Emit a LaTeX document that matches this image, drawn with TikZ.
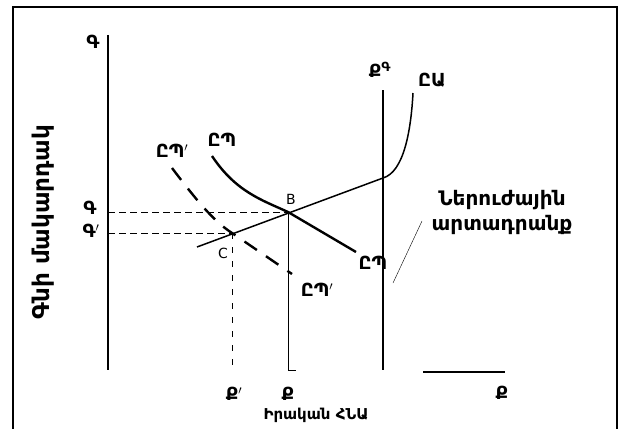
\documentclass[tikz,border=0pt]{standalone}
\usepackage{fontspec}
\setmainfont{DejaVu Sans}
\usetikzlibrary{positioning}

\begin{document}
\begin{tikzpicture}[
    x=1pt, y=-1pt,
    lbl/.style={font=\fontsize{18}{23}\selectfont\bfseries, inner sep=1pt},
    small/.style={font=\fontsize{14}{17}\selectfont, inner sep=1pt},
    axis/.style={line width=1.4pt},
    demand/.style={line width=2.4pt},
    shifted/.style={line width=2.4pt, dash pattern=on 15pt off 11pt},
    supply/.style={line width=1.5pt},
    guide/.style={thin, dash pattern=on 7pt off 4pt},
    drop/.style={thin, dash pattern=on 6pt off 8pt}
]
\useasboundingbox (0,0) rectangle (620,428);
\draw[line width=1.6pt] (13,440) -- (13,7) -- (617,7) -- (617,440);

% axes
\coordinate (ytop) at (108,35);
\coordinate (orig) at (108,370);
\draw[axis] (ytop) -- (orig);
\coordinate (xa) at (423,372);
\coordinate (xb) at (505,372);
\draw[axis] (xa) -- (xb);

% points
\coordinate (B) at (288,212);
\coordinate (C) at (232,233);
\coordinate (pB) at (108,212);
\coordinate (pC) at (108,233);
\coordinate (qB) at (288,370);
\coordinate (qC) at (232,370);

\draw[guide] (pB) -- (B);
\draw[guide] (pC) -- (C);
\draw[drop] (C) -- (qC);
\draw[thin] (B) -- (qB) -- +(8,0);

% potential output
\coordinate (qf) at (383,90);
\coordinate (qf0) at (383,370);
\draw[supply] (qf) -- (qf0);

% aggregate supply
\coordinate (as0) at (197,247);
\coordinate (kink) at (383,178);
\coordinate (as1) at (413,93);
\draw[supply] (as0) -- (kink) .. controls (404,172) and (411,130) .. (as1);

% aggregate demand
\coordinate (ad0) at (212,156);
\coordinate (ad1) at (356,252);
\draw[demand] (ad0) .. controls (236,192) and (262,200) .. (B) -- (ad1);
\coordinate (adp0) at (172,168);
\coordinate (adp1) at (292,274);
\draw[shifted] (adp0) .. controls (200,205) and (215,222) .. (C) -- (adp1);

% labels
\node[lbl] (lq) at (93,42) {Գ};
\node[lbl] (lqB) at (90,208) {Գ};
\node[lbl] (lqC) at (91,231) {Գ$'$};
\node[lbl] (lxC) at (234,394) {Ք$'$};
\node[lbl] (lxB) at (288,394) {Ք};
\node[lbl] (lx) at (502,393) {Ք};
\node[lbl] (lqf) at (380,70) {Ք\textsuperscript{Գ}};
\node[small] (lB) at (291,199) {B};
\node[small] (lC) at (223,253) {C};
\node[lbl] (lAS) at (432,80) {ԸԱ};
\node[lbl] (lAD) at (222,140) {ԸՊ};
\node[lbl] (lAD2) at (373,263) {ԸՊ};
\node[lbl] (lADp) at (172,151) {ԸՊ$'$};
\node[lbl] (lADp2) at (317,290) {ԸՊ$'$};
\node[lbl, font=\fontsize{20}{25}\selectfont\bfseries, align=center] (pot) at (502,212) {Ներուժային\\արտադրանք};
\coordinate (leadtop) at (422,221);
\coordinate (lead) at (393,283);
\draw[thin] (leadtop) -- (lead);
\node[lbl, font=\fontsize{15}{18}\selectfont\bfseries] (xlab) at (316,415) {Իրական ՀՆԱ};
\node[lbl, font=\fontsize{23}{26}\selectfont\bfseries, rotate=90] (ylab) at (43,222) {Գնի մակարդակ};
\end{tikzpicture}
\end{document}
